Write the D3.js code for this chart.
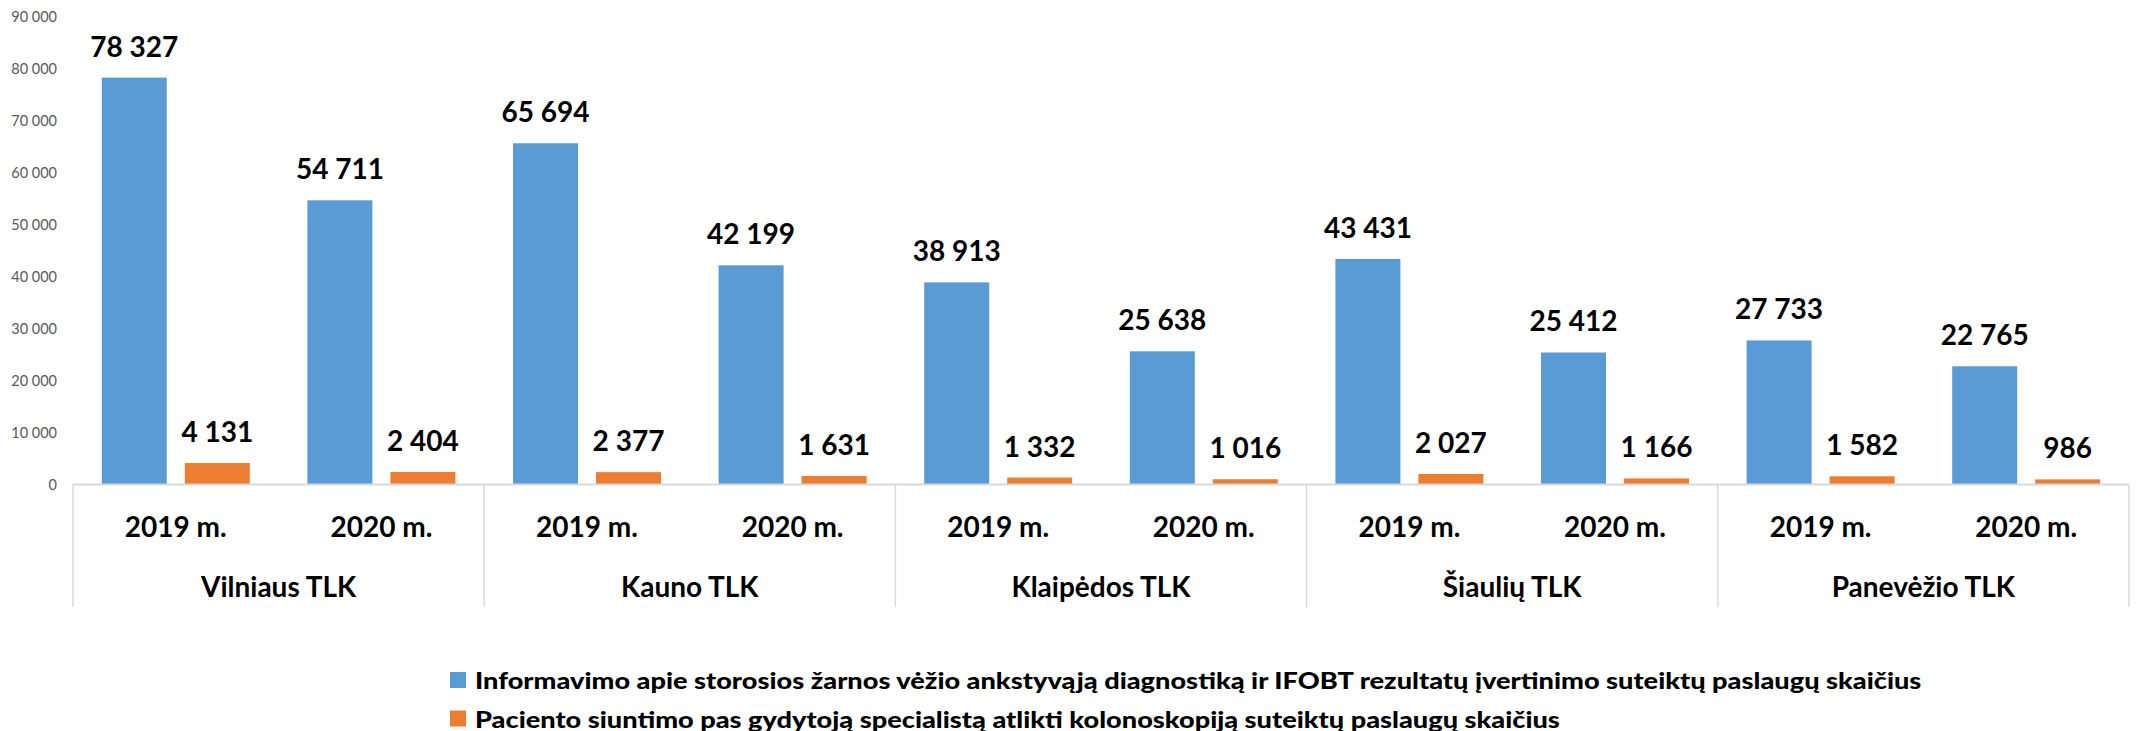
<!DOCTYPE html>
<html>
<head>
<meta charset="utf-8">
<script src="https://cdn.jsdelivr.net/npm/d3@7"></script>
<style>
  html, body { margin: 0; padding: 0; background: #ffffff; }
  svg { display: block; }
</style>
</head>
<body>
<svg id="chart" width="2136" height="731"></svg>
<script>
// ---- data ----
const regions = ["Vilniaus TLK", "Kauno TLK", "Klaipėdos TLK", "Šiaulių TLK", "Panevėžio TLK"];
const years = ["2019 m.", "2020 m."];
const seriesNames = [
  "Informavimo apie storosios žarnos vėžio ankstyvąją diagnostiką ir IFOBT rezultatų įvertinimo suteiktų paslaugų skaičius",
  "Paciento siuntimo pas gydytoją specialistą atlikti kolonoskopiją suteiktų paslaugų skaičius"
];
// values per region, per year (2019, 2020)
const informavimo = [[78327, 54711], [65694, 42199], [38913, 25638], [43431, 25412], [27733, 22765]];
const siuntimo    = [[4131, 2404], [2377, 1631], [1332, 1016], [2027, 1166], [1582, 986]];
const yTicks = [0, 10000, 20000, 30000, 40000, 50000, 60000, 70000, 80000, 90000];
const colors = ["#5b9bd5", "#ed7d31"];

// ---- layout ----
const svg = d3.select("#chart");
const left = 73, right = 2129, yBottom = 484.5, yTop = 17;
const fmt = v => d3.format(",")(v).replace(/,/g, " ");

const xRegion = d3.scaleBand().domain(regions).range([left, right]).padding(0);
const xYear = d3.scaleBand().domain(years).range([0, xRegion.bandwidth()]).padding(0);
const xSeries = d3.scaleBand().domain([0, 1]).range([0, xYear.bandwidth()])
  .paddingInner(0.2169).paddingOuter(0.347);
const y = d3.scaleLinear().domain([0, 90000]).range([yBottom, yTop]);

// y axis labels
const yAxis = d3.axisLeft(y).tickValues(yTicks).tickSize(0).tickPadding(0)
  .tickFormat(d => fmt(d));
const gy = svg.append("g").attr("transform", `translate(57,0)`).call(yAxis);
gy.select(".domain").remove();
gy.selectAll("text")
  .attr("font-family", "Lato, 'Open Sans', sans-serif")
  .attr("font-size", 14.5)
  .attr("fill", "#595959");

// bars
const data = [];
regions.forEach((r, ri) => {
  years.forEach((yr, yi) => {
    [informavimo, siuntimo].forEach((arr, si) => {
      data.push({ region: r, year: yr, s: si, v: arr[ri][yi] });
    });
  });
});
const xOf = d => xRegion(d.region) + xYear(d.year) + xSeries(d.s);

svg.append("g").selectAll("rect").data(data).join("rect")
  .attr("x", d => xOf(d))
  .attr("width", xSeries.bandwidth())
  .attr("y", d => y(d.v))
  .attr("height", d => yBottom - y(d.v))
  .attr("fill", d => colors[d.s]);

// data labels
svg.append("g").selectAll("text").data(data).join("text")
  .attr("x", d => xOf(d) + xSeries.bandwidth() / 2)
  .attr("y", d => y(d.v) - 21)
  .attr("text-anchor", "middle")
  .attr("font-family", "Lato, sans-serif")
  .attr("font-weight", "bold")
  .attr("font-size", 28)
  .attr("fill", "#000")
  .text(d => fmt(d.v));

// category axis (multi-level)
const axisG = svg.append("g");
axisG.append("line")
  .attr("x1", left).attr("x2", right).attr("y1", yBottom).attr("y2", yBottom)
  .attr("stroke", "#d9d9d9").attr("stroke-width", 2);
const seps = regions.map(r => xRegion(r)).concat([right]);
axisG.selectAll("line.sep").data(seps).join("line").attr("class", "sep")
  .attr("x1", d => d).attr("x2", d => d)
  .attr("y1", yBottom).attr("y2", 607)
  .attr("stroke", "#d9d9d9").attr("stroke-width", 1.5);

regions.forEach(r => {
  years.forEach(yr => {
    axisG.append("text")
      .attr("x", xRegion(r) + xYear(yr) + xYear.bandwidth() / 2)
      .attr("y", 537)
      .attr("text-anchor", "middle")
      .attr("font-family", "Lato, sans-serif")
      .attr("font-weight", "bold")
      .attr("font-size", 28)
      .attr("fill", "#000")
      .text(yr);
  });
  axisG.append("text")
    .attr("x", xRegion(r) + xRegion.bandwidth() / 2)
    .attr("y", 597)
    .attr("text-anchor", "middle")
    .attr("font-family", "Lato, sans-serif")
    .attr("font-weight", "bold")
    .attr("font-size", 28)
    .attr("fill", "#000")
    .text(r);
});

// legend
const legend = svg.append("g");
const legendTexts = [];
seriesNames.forEach((name, i) => {
  const ly = 672 + i * 38.5;
  legend.append("rect").attr("x", 450).attr("y", ly).attr("width", 16).attr("height", 16)
    .attr("fill", colors[i]);
  const t = legend.append("text")
    .attr("x", 0).attr("y", 0)
    .attr("transform", `translate(475,${ly + 17})`)
    .attr("font-family", "Lato, sans-serif")
    .attr("font-weight", "900")
    .attr("font-size", 23)
    .attr("fill", "#000")
    .text(name);
  legendTexts.push({ t, ly });
});
// stretch legend text horizontally to the reference width of the first line
const w0 = legendTexts[0].t.node().getComputedTextLength();
const sx = 1447 / w0;
legendTexts.forEach(({ t, ly }) => t.attr("transform", `translate(475,${ly + 17}) scale(${sx},1)`));
</script>
</body>
</html>
